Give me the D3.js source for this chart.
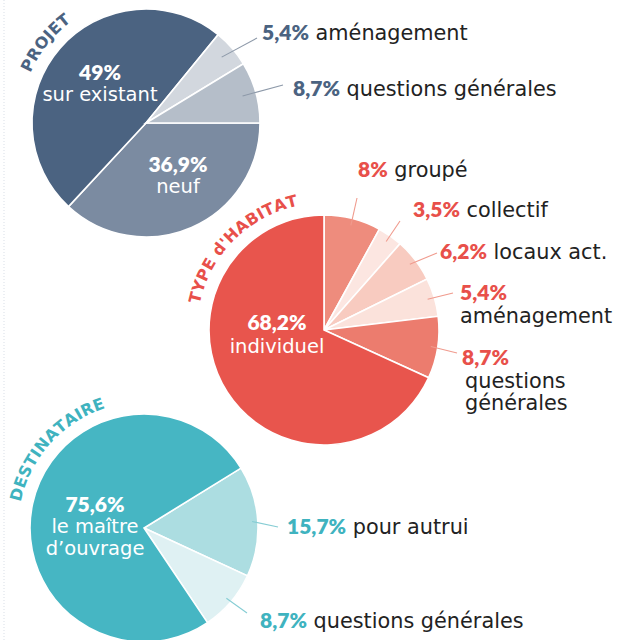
<!DOCTYPE html>
<html><head><meta charset="utf-8">
<script src="https://cdn.jsdelivr.net/npm/d3@7"></script>
<style>
html,body{margin:0;padding:0;background:#fff;}
svg{display:block;}
</style></head>
<body>
<svg id="chart" width="620" height="640"></svg>
<script>
// ---------- DATA ----------
const projetCategories = ["neuf", "sur existant", "aménagement", "questions générales"];
const projetValues = [36.9, 49, 5.4, 8.7];

const habitatCategories = ["groupé", "collectif", "locaux act.", "aménagement", "questions générales", "individuel"];
const habitatValues = [8, 3.5, 6.2, 5.4, 8.7, 68.2];

const destCategories = ["pour autrui", "questions générales", "le maître d’ouvrage"];
const destValues = [15.7, 8.7, 75.6];

const titles = ["PROJET", "TYPE d'HABITAT", "DESTINATAIRE"];

// ---------- LAYOUT / STYLE ----------
const W = 620, H = 640;
const svg = d3.select("#chart");
const NUM_FONT = "Lato, 'DejaVu Sans', sans-serif";
const TXT_FONT = "'DejaVu Sans', sans-serif";
const fmt = v => String(v).replace(".", ",") + "%";

// faint dotted left border
svg.append("line").attr("x1", 4).attr("x2", 4).attr("y1", 0).attr("y2", H)
  .attr("stroke", "#dfe5ec").attr("stroke-width", 1.2).attr("stroke-dasharray", "1,2");

const charts = [
  {
    cats: projetCategories, vals: projetValues, title: titles[0],
    cx: 146, cy: 123, r: 114, start: 90,
    colors: ["#7b8ba1", "#4b6381", "#d2d7de", "#b5bec9"],
    accent: "#4b6381", lineColor: "#8d99a9", lineR: 0.88, titleMid: -51.5,
    inner: [
      {i: 1, x: 100, y: 80, y2: 101, lines: ["sur existant"]},
      {i: 0, x: 178, y: 172, y2: 193, lines: ["neuf"]}
    ],
    outer: [
      {i: 2, x: 262, y: 40, end: [257, 38], inline: true},
      {i: 3, x: 293, y: 96, end: [283, 85], inline: true}
    ]
  },
  {
    cats: habitatCategories, vals: habitatValues, title: titles[1],
    cx: 324, cy: 330, r: 115, start: 0,
    colors: ["#ee8c7d", "#fce6e1", "#f8cbc0", "#fbe2db", "#ec7c6e", "#e8554d"],
    accent: "#e8504a", lineColor: "#f09b8e", lineR: 0.94, titleMid: -45,
    inner: [
      {i: 5, x: 277, y: 330, y2: 353, lines: ["individuel"]}
    ],
    outer: [
      {i: 0, x: 358, y: 177, end: [357, 198], inline: true},
      {i: 1, x: 413, y: 217, end: [400, 221], inline: true},
      {i: 2, x: 440, y: 259, end: [437, 253], inline: true},
      {i: 3, x: 460, y: 300, end: [453, 293], lines: [323]},
      {i: 4, x: 462, y: 365, end: [457, 353], lines: [388, 410], split: true}
    ]
  },
  {
    cats: destCategories, vals: destValues, title: titles[2],
    cx: 144, cy: 528, r: 114, start: 58.3,
    colors: ["#acdde1", "#dff1f3", "#46b6c3"],
    accent: "#3fb3bf", lineColor: "#86cdd4", lineR: 0.95, titleMid: -48,
    inner: [
      {i: 2, x: 95, y: 512, y2: 533, lines: ["le maître", "d’ouvrage"]}
    ],
    outer: [
      {i: 0, x: 287, y: 534, end: [278, 527], inline: true},
      {i: 1, x: 260, y: 628, end: [247, 613], inline: true}
    ]
  }
];

const deg = Math.PI / 180;
const TXT_SIZE = 20.8;

charts.forEach((c, ci) => {
  const pie = d3.pie().sort(null)
    .startAngle(c.start * deg).endAngle(c.start * deg + 2 * Math.PI)
    .value(d => d);
  const arcs = pie(c.vals);
  const arc = d3.arc().innerRadius(0).outerRadius(c.r);
  const g = svg.append("g").attr("transform", `translate(${c.cx},${c.cy})`);

  g.selectAll("path.slice").data(arcs).join("path")
    .attr("class", "slice")
    .attr("d", arc)
    .attr("fill", (d, i) => c.colors[i])
    .attr("stroke", "#fff").attr("stroke-width", 1.6);

  // curved title: each letter placed and rotated along an arc
  const R = c.r + 12;
  const spacing = 0.2;
  const tg = svg.append("g")
    .attr("font-family", TXT_FONT).attr("font-weight", "bold")
    .attr("font-size", 16).attr("fill", c.accent);
  const chars = Array.from(c.title);
  const widths = chars.map(ch => {
    const t = tg.append("text").text(ch === " " ? "\u00a0" : ch);
    const w = t.node().getComputedTextLength();
    t.remove();
    return w;
  });
  const total = d3.sum(widths) + spacing * (chars.length - 1);
  let s = -total / 2;
  chars.forEach((ch, k) => {
    const sc = s + widths[k] / 2;
    s += widths[k] + spacing;
    if (ch === " ") return;
    const a = c.titleMid * deg + sc / R;
    const x = c.cx + R * Math.sin(a), y = c.cy - R * Math.cos(a);
    tg.append("text").attr("text-anchor", "middle")
      .attr("transform", `translate(${x},${y}) rotate(${a / deg})`)
      .text(ch);
  });

  // inner labels (white)
  c.inner.forEach(l => {
    const t = svg.append("text").attr("text-anchor", "middle").attr("fill", "#fff");
    t.append("tspan").attr("x", l.x).attr("y", l.y)
      .attr("font-family", NUM_FONT).attr("font-weight", 800).attr("font-size", 21)
      .text(fmt(c.vals[l.i]));
    l.lines.forEach((s, k) => {
      t.append("tspan").attr("x", l.x).attr("y", l.y2 + k * 22)
        .attr("font-family", TXT_FONT).attr("font-size", 19.5)
        .text(s);
    });
  });

  // outer labels with leader lines
  c.outer.forEach(l => {
    const a = arcs[l.i];
    const mid = (a.startAngle + a.endAngle) / 2;
    const rr = c.r * c.lineR;
    const sx = c.cx + rr * Math.sin(mid), sy = c.cy - rr * Math.cos(mid);
    svg.append("line").attr("x1", sx).attr("y1", sy)
      .attr("x2", l.end[0]).attr("y2", l.end[1])
      .attr("stroke", c.lineColor).attr("stroke-width", 1.1);
    const t = svg.append("text").attr("x", l.x).attr("y", l.y);
    t.append("tspan").attr("font-family", NUM_FONT).attr("font-weight", 800)
      .attr("font-size", 21).attr("fill", c.accent).text(fmt(c.vals[l.i]));
    const name = c.cats[l.i];
    if (l.inline) {
      t.append("tspan").attr("font-family", TXT_FONT).attr("font-size", TXT_SIZE)
        .attr("fill", "#222").text("\u00a0" + name);
    } else {
      const parts = l.split ? name.split(" ") : [name];
      parts.forEach((s, k) => {
        svg.append("text").attr("x", l.x + (l.split ? 3 : 0)).attr("y", l.lines[k])
          .attr("font-family", TXT_FONT).attr("font-size", TXT_SIZE)
          .attr("fill", "#222").text(s);
      });
    }
  });
});
</script>
</body></html>
